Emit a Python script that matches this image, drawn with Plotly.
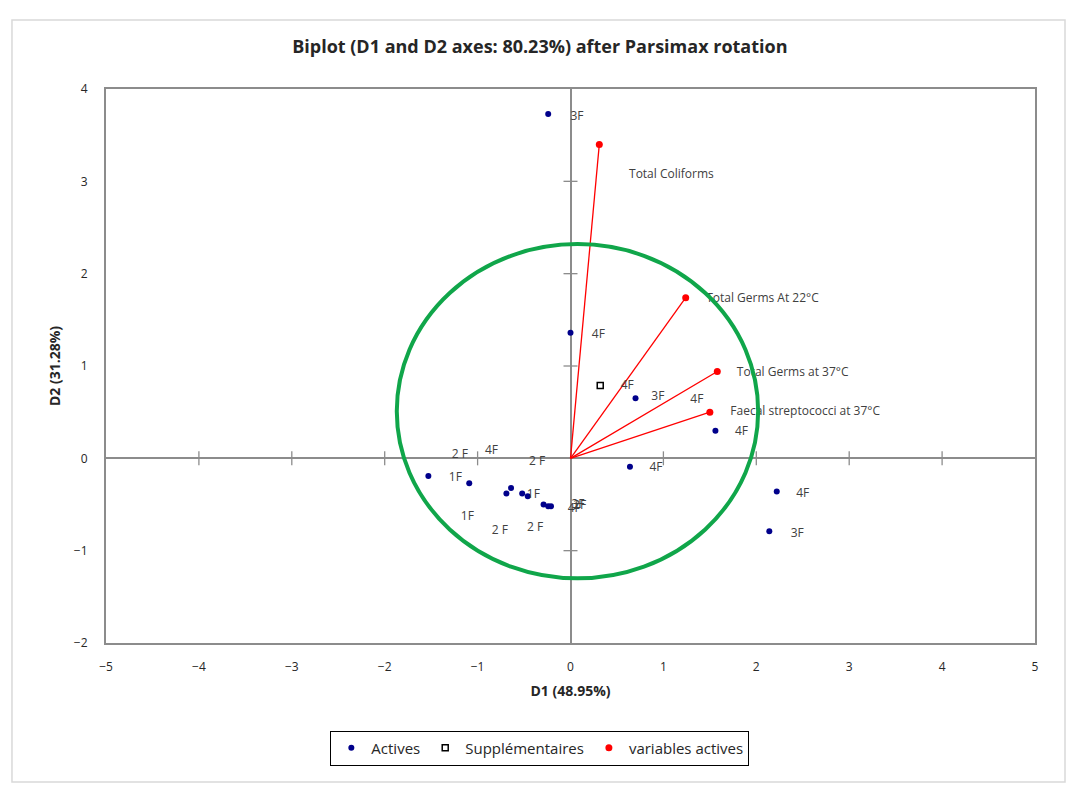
import plotly.graph_objects as go

# Observations (active) on the rotated D1/D2 plane
act_x = [-0.24, 0.00, 0.70, 1.56, 0.64, 2.22, 2.14, -1.53, -1.09, -0.69,
         -0.64, -0.52, -0.46, -0.29, -0.24, -0.21]
act_y = [3.73, 1.36, 0.65, 0.30, -0.09, -0.36, -0.79, -0.19, -0.27, -0.38,
         -0.32, -0.38, -0.41, -0.50, -0.52, -0.52]

# Supplementary observation
sup_x = [0.32]
sup_y = [0.79]

# Observation labels (placed by the label-overlap routine)
lab_text = ["3F", "4F", "4F", "3F", "4F", "4F", "4F", "4F", "3F",
            "2 F", "4F", "2 F", "1F", "1F", "1F", "2 F", "2 F",
            "3F", "4F", "2F"]
lab_x = [0.07, 0.30, 0.61, 0.94, 1.36, 1.84, 0.92, 2.50, 2.44,
         -1.19, -0.85, -0.36, -1.24, -0.40, -1.11, -0.76, -0.38,
         0.08, 0.04, 0.10]
lab_y = [3.70, 1.34, 0.78, 0.66, 0.63, 0.28, -0.10, -0.39, -0.82,
         0.04, 0.08, -0.04, -0.21, -0.40, -0.64, -0.79, -0.75,
         -0.51, -0.55, -0.52]

# Active variables (loadings)
var_names = ["Total Coliforms", "Total Germs At 22°C", "Total Germs at 37°C",
             "Faecal streptococci at 37°C"]
var_x = [0.31, 1.24, 1.58, 1.50]
var_y = [3.40, 1.74, 0.94, 0.50]
var_lab_x = [0.63, 1.46, 1.79, 1.72]
var_lab_y = [3.07, 1.73, 0.92, 0.50]

# Highlight ellipse bounds (data units)
ell_x = [-1.87, 2.02]
ell_y = [-1.30, 2.32]

x_ticks = [-5, -4, -3, -2, -1, 0, 1, 2, 3, 4, 5]
y_ticks = [-2, -1, 0, 1, 2, 3, 4]

FONT = "Open Sans, Liberation Sans, sans-serif"
txt_font = dict(family=FONT, size=12, color="#404040")
axis_grey = "#8c8c8c"

fig = go.Figure()

# vectors from the origin
vx, vy = [], []
for x, y in zip(var_x, var_y):
    vx += [0, x, None]
    vy += [0, y, None]
fig.add_trace(go.Scatter(x=vx, y=vy, mode="lines", line=dict(color="#ff0000", width=1.3),
                         showlegend=False, hoverinfo="skip"))

# tick crosses drawn on the zero axes
xt = [t for t in x_ticks if t not in (0, x_ticks[0], x_ticks[-1])]
yt = [t for t in y_ticks if t not in (0, y_ticks[0], y_ticks[-1])]
fig.add_trace(go.Scatter(x=xt, y=[0] * len(xt), mode="markers",
                         marker=dict(symbol="line-ns", size=10, line=dict(color=axis_grey, width=1.3)),
                         showlegend=False, hoverinfo="skip"))
fig.add_trace(go.Scatter(x=[0] * len(yt), y=yt, mode="markers",
                         marker=dict(symbol="line-ew", size=10, line=dict(color=axis_grey, width=1.3)),
                         showlegend=False, hoverinfo="skip"))

fig.add_trace(go.Scatter(x=act_x, y=act_y, mode="markers", name="Actives",
                         marker=dict(color="#00008b", size=6)))
fig.add_trace(go.Scatter(x=sup_x, y=sup_y, mode="markers", name="Supplémentaires",
                         marker=dict(symbol="square-open", color="#000000", size=6,
                                     line=dict(width=1.5))))
fig.add_trace(go.Scatter(x=var_x, y=var_y, mode="markers", name="variables actives",
                         marker=dict(color="#ff0000", size=7)))

fig.add_trace(go.Scatter(x=lab_x, y=lab_y, mode="text", text=lab_text,
                         textposition="middle center", textfont=txt_font,
                         showlegend=False, hoverinfo="skip"))
fig.add_trace(go.Scatter(x=var_lab_x, y=var_lab_y, mode="text", text=var_names,
                         textposition="middle right", textfont=txt_font,
                         showlegend=False, hoverinfo="skip"))

fig.add_shape(type="circle", xref="x", yref="y",
              x0=ell_x[0], x1=ell_x[1], y0=ell_y[0], y1=ell_y[1],
              line=dict(color="#10a64a", width=4), layer="above")

# outer chart frame
fig.add_shape(type="rect", xref="paper", yref="paper",
              x0=-0.1012, x1=1.0323, y0=-0.2509, y1=1.1245,
              line=dict(color="#d9d9d9", width=1.5), layer="below")

axis_common = dict(showgrid=False, zeroline=True, zerolinecolor=axis_grey, zerolinewidth=1.5,
                   showline=True, linecolor=axis_grey, linewidth=2, mirror=True,
                   ticks="", tickfont=dict(family=FONT, size=12, color="#262626"))

fig.update_xaxes(range=[-5, 5], tickvals=x_ticks, ticklabelstandoff=12,
                 title=dict(text="<b>D1 (48.95%)</b>", standoff=12,
                            font=dict(family=FONT, size=14, color="#262626")),
                 **axis_common)
fig.update_yaxes(range=[-2, 4], tickvals=y_ticks, ticklabelstandoff=14,
                 title=dict(text="<b>D2 (31.28%)</b>", standoff=10,
                            font=dict(family=FONT, size=14, color="#262626")),
                 **axis_common)

fig.update_layout(
    width=1069, height=785,
    margin=dict(l=106, r=34, t=89, b=142),
    plot_bgcolor="white", paper_bgcolor="white",
    title=dict(text="<b>Biplot (D1 and D2 axes: 80.23%) after Parsimax rotation</b>",
               x=0.505, xanchor="center", y=1 - 47 / 785, yanchor="middle", yref="container",
               font=dict(family=FONT, size=18, color="#262626")),
    legend=dict(orientation="h", x=0.467, xanchor="center", y=-0.158, yanchor="top",
                bordercolor="#000000", borderwidth=1, itemwidth=30,
                font=dict(family=FONT, size=15, color="#262626")),
    showlegend=True,
)

fig.write_html("out.html")
